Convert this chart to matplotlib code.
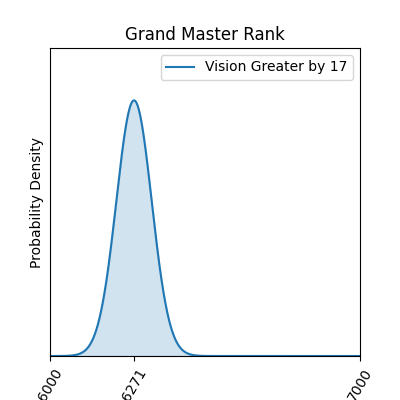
import numpy as np
import matplotlib
matplotlib.use("Agg")
import matplotlib.pyplot as plt

mean = 6271
std = 57
x_min, x_max = 6000, 7000
tick_values = [6000, 6271, 7000]
label = "Vision Greater by 17"
title = "Grand Master Rank"

x = np.linspace(x_min, x_max, 1000)
y = np.exp(-0.5 * ((x - mean) / std) ** 2) / (std * np.sqrt(2 * np.pi))

fig, ax = plt.subplots(figsize=(4, 4), dpi=100)
ax.plot(x, y, color="#1f77b4", label=label)
ax.fill_between(x, y, color="#1f77b4", alpha=0.2)
ax.set_xlim(x_min, x_max)
ax.set_ylim(0, y.max() / 0.83)
ax.set_xticks(tick_values)
ax.set_xticklabels([str(t) for t in tick_values], rotation=60)
ax.set_yticks([])
ax.set_ylabel("Probability Density")
ax.set_title(title)
ax.legend(loc="upper right")
fig.savefig("out.png")
